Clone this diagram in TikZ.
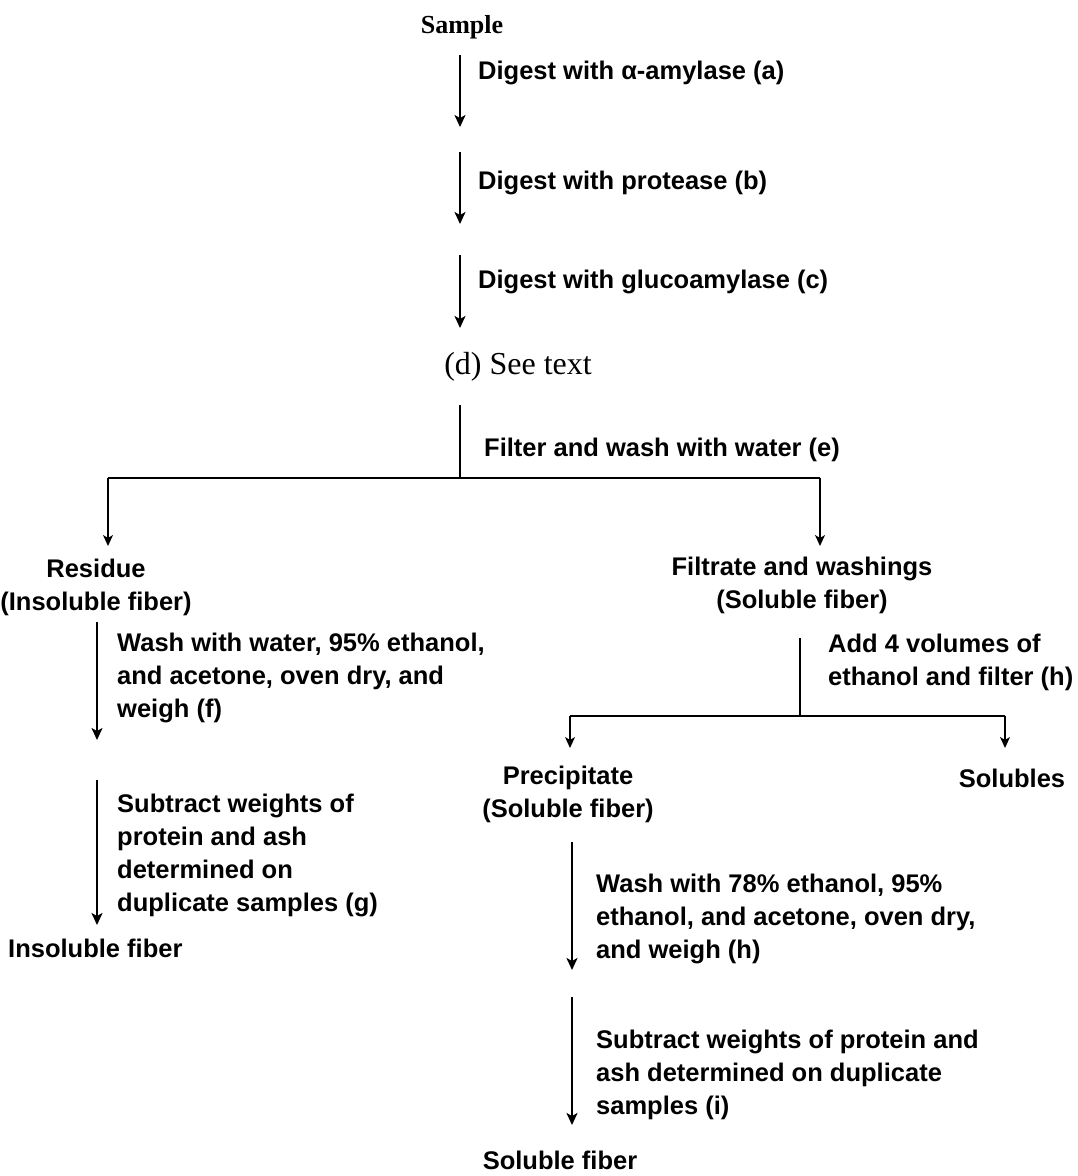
\documentclass[tikz,border=0pt]{standalone}
\usepackage{fontspec}
\setmainfont{Liberation Sans}
\newfontfamily\seriffont{Liberation Serif}
\usetikzlibrary{arrows.meta}
\begin{document}
\begin{tikzpicture}[x=1pt,y=-1pt,
  txt/.style={inner sep=0pt,font=\fontsize{25.5}{33}\selectfont\bfseries},
  lbl/.style={txt,anchor=west,align=left},
  ctr/.style={txt,align=center},
  serif/.style={inner sep=0pt,font=\fontsize{26}{33}\selectfont\seriffont},
  flow/.style={line width=1.8pt,-{Stealth[length=12pt,width=11pt,inset=3pt]}},
  drop/.style={line width=1.5pt,-{Stealth[length=11pt,width=10pt,inset=3pt]}},
  bar/.style={line width=2.8pt},
  stem/.style={line width=1.8pt}]
\useasboundingbox (0,0) rectangle (1078,1176);
% top chain
\node[serif,font=\fontsize{26}{33}\selectfont\seriffont\bfseries] (sample) at (462,27) {Sample};
\coordinate (a1s) at (460,55); \coordinate (a1e) at (460,127);
\coordinate (a2s) at (460,152); \coordinate (a2e) at (460,224);
\coordinate (a3s) at (460,255); \coordinate (a3e) at (460,328);
\draw[flow] (a1s) -- (a1e);
\draw[flow] (a2s) -- (a2e);
\draw[flow] (a3s) -- (a3e);
\node[lbl] (la) at (478,73) {Digest with α-amylase (a)};
\node[lbl] (lb) at (478,183) {Digest with protease (b)};
\node[lbl] (lc) at (478,282) {Digest with glucoamylase (c)};
\node[serif,font=\fontsize{32}{36}\selectfont\seriffont] (dtext) at (518,367) {(d) See text};
% first split
\coordinate (s1) at (460,405);
\coordinate (j1) at (460,478);
\coordinate (jl) at (108,478);
\coordinate (jr) at (820,478);
\coordinate (dl) at (108,546);
\coordinate (dr) at (820,546);
\draw[stem] (s1) -- (j1);
\draw[bar] (jl) -- (jr);
\draw[drop] (jl) -- (dl);
\draw[drop] (jr) -- (dr);
\node[lbl] (le) at (484,450) {Filter and wash with water (e)};
\node[ctr] (residue) at (96,587) {Residue\\(Insoluble fiber)};
\node[ctr] (filtrate) at (802,585) {Filtrate and washings\\(Soluble fiber)};
% left column
\coordinate (f1s) at (97,622); \coordinate (f1e) at (97,740);
\coordinate (g1s) at (97,780); \coordinate (g1e) at (97,925);
\draw[flow] (f1s) -- (f1e);
\draw[flow] (g1s) -- (g1e);
\node[lbl] (lf) at (117,678) {Wash with water, 95\% ethanol,\\and acetone, oven dry, and\\weigh (f)};
\node[lbl] (lg) at (117,855) {Subtract weights of\\protein and ash\\determined on\\duplicate samples (g)};
\node[txt,anchor=west] (insol) at (8,948) {Insoluble fiber};
% right column
\coordinate (h1s) at (800,638);
\coordinate (j2) at (800,716);
\coordinate (j2l) at (570,716);
\coordinate (j2r) at (1005,716);
\coordinate (d2l) at (570,748);
\coordinate (d2r) at (1005,748);
\draw[stem] (h1s) -- (j2);
\draw[bar] (j2l) -- (j2r);
\draw[drop] (j2l) -- (d2l);
\draw[drop] (j2r) -- (d2r);
\node[lbl] (lh) at (828,662) {Add 4 volumes of\\ethanol and filter (h)};
\node[ctr] (precip) at (568,794) {Precipitate\\(Soluble fiber)};
\node[txt] (solubles) at (1012,778) {Solubles};
\coordinate (p1s) at (572,842); \coordinate (p1e) at (572,970);
\coordinate (p2s) at (572,997); \coordinate (p2e) at (572,1125);
\draw[flow] (p1s) -- (p1e);
\draw[flow] (p2s) -- (p2e);
\node[lbl] (lh2) at (596,919) {Wash with 78\% ethanol, 95\%\\ethanol, and acetone, oven dry,\\and weigh (h)};
\node[lbl] (li) at (596,1075) {Subtract weights of protein and\\ash determined on duplicate\\samples (i)};
\node[txt] (solfib) at (560,1160) {Soluble fiber};
\end{tikzpicture}
\end{document}
